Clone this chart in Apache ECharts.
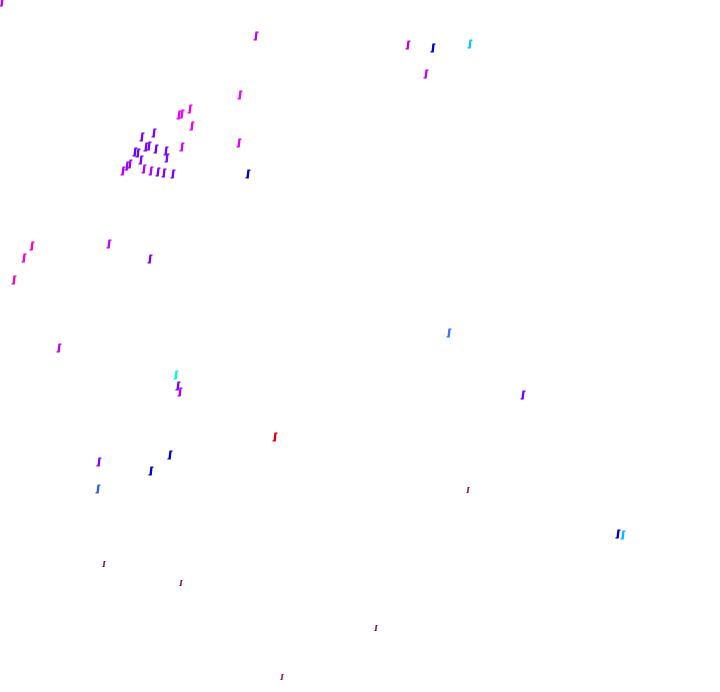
<!DOCTYPE html>
<html>
<head>
<meta charset="utf-8">
<script src="https://cdn.jsdelivr.net/npm/echarts@6/dist/echarts.min.js"></script>
<style>html,body{margin:0;padding:0;background:#fff;}#c{width:720px;height:692px;}</style>
</head>
<body>
<div id="c"></div>
<script>
var xs = [2,256,408,433,470,426,240,190,179,182,192,182,239,248,173,142,154,135,138,146,149,156,166,167,141,127,130,123,144,151,158,164,32,24,14,109,150,59,176,178,180,275,170,99,151,98,449,523,468,618,623,104,181,376,282];
var ys = [2,36,45,48,44,74,95,109,115,114,126,147,143,174,174,137,133,152,153,147,146,149,151,158,160,166,164,171,169,171,172,173,246,258,280,244,259,348,375,386,392,437,455,462,471,489,333,395,490,534,535,564,583,628,677];
var hues = [5.2,5.3,5.2,3,0.8,5.3,6,6.2,5.8,6,6.3,5.6,5.8,3,4.3,4.3,4.3,4,4,4.2,4.2,4,4.3,4.5,4.3,4.8,4.8,5.2,5.2,5.1,4.3,4.3,6.8,6.3,7,5.3,4.3,5.3,0,4.3,5.2,8,3,4.5,3,2.2,2,4.2,9,3,1,9,9,9,8.7];
var data = xs.map(function(x,i){return [x, ys[i], hues[i]];});
var chart = echarts.init(document.getElementById('c'));
chart.setOption({
  backgroundColor:'#fff',
  animation:false,
  grid:{left:0,right:0,top:0,bottom:0},
  xAxis:{type:'value',min:0,max:720,show:false},
  yAxis:{type:'value',min:0,max:692,inverse:true,show:false},
  visualMap:{show:false,dimension:2,min:0,max:9,
    inRange:{color:['#00ffcc','#00bbff','#3377ff','#0000cc','#6600ff','#aa00ff','#ee00ff','#ff00aa','#dd0000','#770044']}},
  series:[{type:'scatter',data:data,
    symbol:'path://M4 0 L10 0 L10 3 L8 3 L6.5 20 L0 20 L0 17 L2 17 L3.5 3 Z',
    symbolSize:function(v){return v[2]>=8.5?[3,6]:[5,9];},
    itemStyle:{opacity:1}}]
});
</script>
</body>
</html>
